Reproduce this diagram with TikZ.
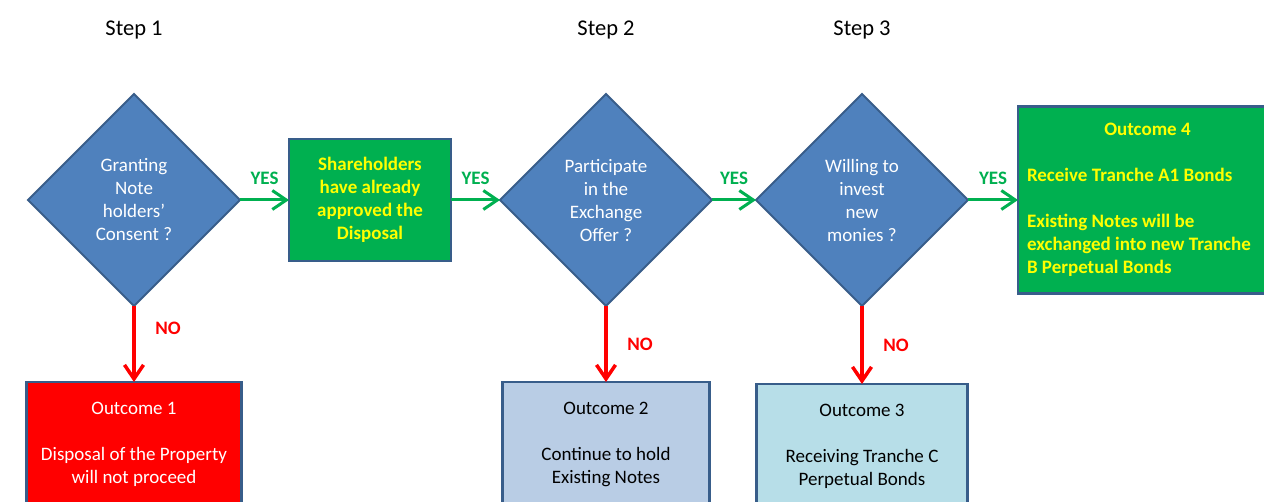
\documentclass[tikz,border=0pt]{standalone}
\usepackage{fontspec}
\setmainfont{Carlito}
\usetikzlibrary{shapes.geometric,positioning,arrows.meta}

\definecolor{qblue}{HTML}{4F81BD}
\definecolor{qedge}{HTML}{385D8A}
\definecolor{okgreen}{HTML}{00B050}
\definecolor{okyellow}{HTML}{FFFF00}
\definecolor{nored}{HTML}{FF0000}
\definecolor{holdblue}{HTML}{B9CDE5}
\definecolor{tranchec}{HTML}{B7DEE8}

\newcommand{\outcometext}[1]{\parbox[c][110pt][t]{205pt}{\centering #1}}

\begin{document}
\begin{tikzpicture}[x=1pt, y=-1pt,
  >={Straight Barb[length=14pt,width=19pt]},
  every node/.style={font=\fontsize{19}{23}\selectfont, outer sep=0pt},
  question/.style={diamond, aspect=1, draw=qedge, line width=2pt, fill=qblue,
    minimum size=212pt, inner sep=0pt, align=center, text=white},
  greenbox/.style={draw=qedge, line width=2.5pt, fill=okgreen, text=okyellow,
    font=\fontsize{19}{23}\selectfont\bfseries},
  outcome/.style={draw=qedge, line width=2.5pt, inner xsep=0pt, inner ysep=20pt,
    minimum width=#1},
  steplabel/.style={font=\fontsize{22.5}{27}\selectfont},
  yesarrow/.style={->, line width=3pt, okgreen},
  noarrow/.style={->, line width=3.5pt, nored},
  yeslabel/.style={above=12pt, text=okgreen, font=\fontsize{19}{23}\selectfont\bfseries},
  nolabel/.style={right=18pt, text=nored, font=\fontsize{19}{23}\selectfont\bfseries},
  ]
  \useasboundingbox (0,0) rectangle (1264,502);
  \clip (0,0) rectangle (1264,502);

  % decisions along the top row
  \node[question] (consent) at (134,200) {Granting\\Note\\holders’\\Consent ?};
  \node[greenbox, right=49pt of consent, minimum width=162pt, minimum height=122pt,
    align=center] (approved) {Shareholders\\have already\\approved the\\Disposal};
  \node[question, right=49pt of approved] (exchange) {Participate\\in the\\Exchange\\Offer ?};
  \node[question, right=44pt of exchange] (invest) {Willing to\\invest\\new\\monies ?};
  \node[greenbox, right=50pt of invest, minimum width=259pt, minimum height=187pt,
    text width=241pt, inner xsep=9pt, align=flush left] (outcome4)
    {\makebox[241pt]{Outcome 4}\\[23pt]Receive Tranche A1 Bonds\\[23pt]Existing Notes will be\\exchanged into new Tranche\\B Perpetual Bonds};

  % outcomes when the answer is no
  \node[outcome=215pt, fill=nored, text=white, below=76pt of consent] (outcome1)
    {\outcometext{Outcome 1\\[23pt]Disposal of the Property\\will not proceed}};
  \node[outcome=207pt, fill=holdblue, below=76pt of exchange] (outcome2)
    {\outcometext{Outcome 2\\[23pt]Continue to hold\\Existing Notes}};
  \node[outcome=211pt, fill=tranchec, below=78pt of invest] (outcome3)
    {\outcometext{Outcome 3\\[23pt]Receiving Tranche C\\Perpetual Bonds}};

  % step titles
  \node[steplabel, above=52pt of consent] (step1) {Step 1};
  \node[steplabel, above=52pt of exchange] (step2) {Step 2};
  \node[steplabel, above=52pt of invest] (step3) {Step 3};

  \draw[yesarrow] (consent) -- node[yeslabel] {YES} (approved);
  \draw[yesarrow] (approved) -- node[yeslabel] {YES} (exchange);
  \draw[yesarrow] (exchange) -- node[yeslabel] {YES} (invest);
  \draw[yesarrow] (invest) -- node[yeslabel] {YES} (outcome4);
  \draw[noarrow] (consent) -- node[nolabel, pos=0.3] {NO} (outcome1);
  \draw[noarrow] (exchange) -- node[nolabel] {NO} (outcome2);
  \draw[noarrow] (invest) -- node[nolabel] {NO} (outcome3);
\end{tikzpicture}
\end{document}
